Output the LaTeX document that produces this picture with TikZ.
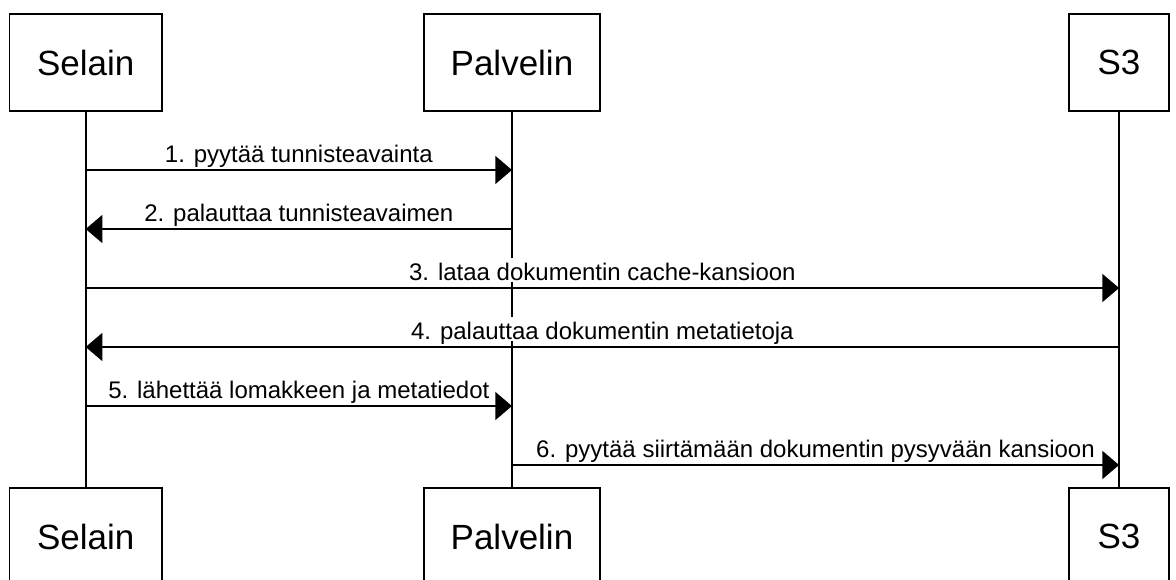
\documentclass[tikz,border=0pt]{standalone}
\usepackage{fontspec}
\setmainfont{Liberation Sans}
\usetikzlibrary{arrows.meta}

\begin{document}
\begin{tikzpicture}[x=0.75pt, y=-0.75pt,
    >={Triangle[width=21pt,length=12.5pt]},
    actor/.style = {rectangle, draw=black, line width=1.2pt, fill=white,
                    minimum height=72.75pt, inner sep=0pt,
                    text centered, font=\fontsize{26.25}{30}\selectfont},
    life/.style = {line width=1.2pt},
    msg/.style = {->, line width=1.2pt},
    lbl/.style = {anchor=south, fill=white, inner sep=1pt, yshift=4.25pt,
                  text height=16pt, text depth=0pt,
                  font=\fontsize{18}{21}\selectfont}]
  \useasboundingbox (0,0) rectangle (1176,580);

  \node (selain) [actor, minimum width=114.5pt] at (85.7,62.5) {Selain};
  \node (palvelin) [actor, minimum width=132.2pt, node distance=319.7pt, right of=selain] {Palvelin};
  \node (s3) [actor, minimum width=75pt, node distance=455.3pt, right of=palvelin] {S3};

  \node (selainB) [actor, minimum width=114.5pt, node distance=355.5pt, below of=selain] {Selain};
  \node (palvelinB) [actor, minimum width=132.2pt, node distance=355.5pt, below of=palvelin] {Palvelin};
  \node (s3B) [actor, minimum width=75pt, node distance=355.5pt, below of=s3] {S3};

  % message rows
  \coordinate (m1) at (0,170);
  \coordinate (m2) at (0,229);
  \coordinate (m3) at (0,288);
  \coordinate (m4) at (0,347);
  \coordinate (m5) at (0,406);
  \coordinate (m6) at (0,465);

  \path[life]
    (selain) edge (selainB)
    (palvelin) edge (palvelinB)
    (s3) edge (s3B);

  \path[msg]
    (selain |- m1) edge node[lbl] {1. pyytää tunnisteavainta} (palvelin |- m1)
    (palvelin |- m2) edge node[lbl] {2. palauttaa tunnisteavaimen} (selain |- m2)
    (selain |- m3) edge node[lbl] {3. lataa dokumentin cache-kansioon} (s3 |- m3)
    (s3 |- m4) edge node[lbl] {4. palauttaa dokumentin metatietoja} (selain |- m4)
    (selain |- m5) edge node[lbl] {5. lähettää lomakkeen ja metatiedot} (palvelin |- m5)
    (palvelin |- m6) edge node[lbl] {6. pyytää siirtämään dokumentin pysyvään kansioon} (s3 |- m6);
\end{tikzpicture}
\end{document}
